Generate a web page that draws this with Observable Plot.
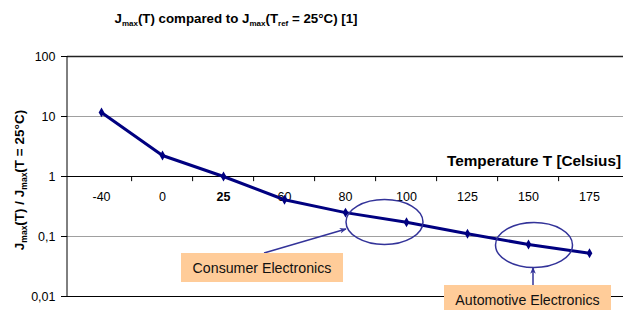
<!DOCTYPE html>
<html><head><meta charset="utf-8">
<script src="https://cdn.jsdelivr.net/npm/d3@7"></script>
<script src="https://cdn.jsdelivr.net/npm/@observablehq/plot@0.6"></script>
<style>
body{margin:0;background:#fff}
svg{font-family:"Liberation Sans",Arial,sans-serif}
</style>
</head><body><div id="chart"></div>
<script>
// ---- data ----
const temperatures = ["-40","0","25","60","80","100","125","150","175"];
const ratios = [11.7, 2.24, 1, 0.41, 0.25, 0.173, 0.111, 0.0736, 0.0527];
const yTicks = [0.01, 0.1, 1, 10, 100];
const yTickLabels = ["0,01","0,1","1","10","100"];
const referenceTemp = "25";
const callouts = ["Consumer Electronics", "Automotive Electronics"];

const data = temperatures.map((t, i) => ({t, v: ratios[i]}));

// ---- layout ----
const W = 623, H = 310, ML = 67, MR = 0, MT = 56, MB = 14;
const step = (W - ML - MR) / temperatures.length;
const FONT = '"Liberation Sans",Arial,sans-serif';
const NAVY = "#000080", PURPLE = "#333399", PEACH = "#FFCC99";

const chart = Plot.plot({
  width: W, height: H,
  marginTop: MT, marginBottom: MB, marginLeft: ML, marginRight: MR,
  style: {fontFamily: FONT, fontSize: "12.5px", background: "white", color: "black", overflow: "visible"},
  x: {type: "point", domain: temperatures, padding: 0.5, axis: null},
  y: {type: "log", domain: [0.01, 100], ticks: yTicks,
      tickFormat: d => yTickLabels[yTicks.indexOf(d)], tickSize: 6, tickPadding: 6, label: null},
  marks: [
    Plot.ruleY([10, 0.1], {stroke: "#a0a0a0", strokeWidth: 1}),
    Plot.ruleY([100], {stroke: "#222", strokeWidth: 1.6}),
    Plot.ruleY([1, 0.01], {stroke: "black", strokeWidth: 1}),
    // category boundary ticks on the crossing axis (y = 1)
    Plot.ruleX(data.slice(1), {x: "t", y1: 1, y2: 0.82, dx: -step / 2, stroke: "black", strokeWidth: 1}),
    Plot.text(data.filter(d => d.t !== referenceTemp), {x: "t", y: () => 1, text: "t", dy: 20, fontSize: 12.5, fill: "black"}),
    Plot.text(data.filter(d => d.t === referenceTemp), {x: "t", y: () => 1, text: "t", dy: 20, fontSize: 12.5, fontWeight: "bold", fill: "black"}),
    Plot.line(data, {x: "t", y: "v", stroke: NAVY, strokeWidth: 3}),
    Plot.dot(data, {x: "t", y: "v", symbol: "diamond", r: 3, fill: NAVY})
  ]
});

document.getElementById("chart").appendChild(chart);

const sx = chart.scale("x"), sy = chart.scale("y");
const X = v => sx.apply(v), Y = v => sy.apply(v);
const svg = d3.select(chart);

// left axis line
svg.append("line").attr("x1", ML).attr("x2", ML).attr("y1", Y(100)).attr("y2", Y(0.01))
  .attr("stroke", "black").attr("stroke-width", 1);

// x axis title
svg.append("text").attr("x", W - 2).attr("y", Y(1) - 10).attr("text-anchor", "end")
  .attr("font-size", 15.3).attr("font-weight", "bold").attr("fill", "black")
  .text("Temperature T [Celsius]");

// rich text with subscripts
function richText(g, parts, size, subSize) {
  let prevSub = false;
  parts.forEach(([s, sub]) => {
    const dy = sub && !prevSub ? 3 : (!sub && prevSub ? -3 : 0);
    g.append("tspan").attr("font-size", sub ? subSize : size).attr("dy", dy).text(s);
    prevSub = sub;
  });
}
const title = svg.append("text").attr("x", 236).attr("y", 23).attr("text-anchor", "middle")
  .attr("font-weight", "bold").attr("fill", "black");
richText(title, [["J"], ["max", 1], ["(T) compared to J"], ["max", 1], ["(T"], ["ref", 1], [" = 25°C) [1]"]], 13.3, 8);

const ylab = svg.append("text").attr("transform", `translate(24,${(Y(100) + Y(0.01)) / 2 + 4}) rotate(-90)`)
  .attr("text-anchor", "middle").attr("font-weight", "bold").attr("fill", "black");
richText(ylab, [["J"], ["max", 1], ["(T) / J"], ["max", 1], ["(T = 25°C)"]], 13.5, 8.5);

// arrow marker
svg.append("defs").append("marker").attr("id", "ah").attr("viewBox", "0 0 10 10")
  .attr("refX", 9).attr("refY", 5).attr("markerWidth", 7).attr("markerHeight", 7)
  .attr("markerUnits", "userSpaceOnUse").attr("orient", "auto")
  .append("path").attr("d", "M0,1 L10,5 L0,9 L3,5 Z").attr("fill", PURPLE);

// ellipses around the regions of interest
const e1 = {cx: (X("80") + X("100")) / 2 + 9, cy: Y(0.171)};
const e2 = {cx: X("150") + 6, cy: Y(0.0708)};
[e1, e2].forEach(e => svg.append("ellipse").attr("cx", e.cx).attr("cy", e.cy)
  .attr("rx", 38.5).attr("ry", 22.5).attr("fill", "none").attr("stroke", PURPLE).attr("stroke-width", 1.5));

// callout boxes
const b1 = {x: X("25") - 42, y: 253, w: 162, h: 29};
const b2 = {x: X("125") - 23, y: 285, w: 167, h: 26};
svg.append("line").attr("x1", b1.x + 83).attr("y1", b1.y).attr("x2", e1.cx - 38.5).attr("y2", e1.cy + 7)
  .attr("stroke", PURPLE).attr("stroke-width", 1.5).attr("marker-end", "url(#ah)");
svg.append("line").attr("x1", e2.cx - 1).attr("y1", b2.y).attr("x2", e2.cx - 1).attr("y2", e2.cy + 22.5)
  .attr("stroke", PURPLE).attr("stroke-width", 1.5).attr("marker-end", "url(#ah)");
[[b1, callouts[0]], [b2, callouts[1]]].forEach(([b, label]) => {
  svg.append("rect").attr("x", b.x).attr("y", b.y).attr("width", b.w).attr("height", b.h).attr("fill", PEACH);
  svg.append("text").attr("x", b.x + b.w / 2).attr("y", b.y + 15).attr("dy", "0.35em")
    .attr("text-anchor", "middle").attr("font-size", 14.2).attr("fill", "#111").text(label);
});
</script>
</body></html>
